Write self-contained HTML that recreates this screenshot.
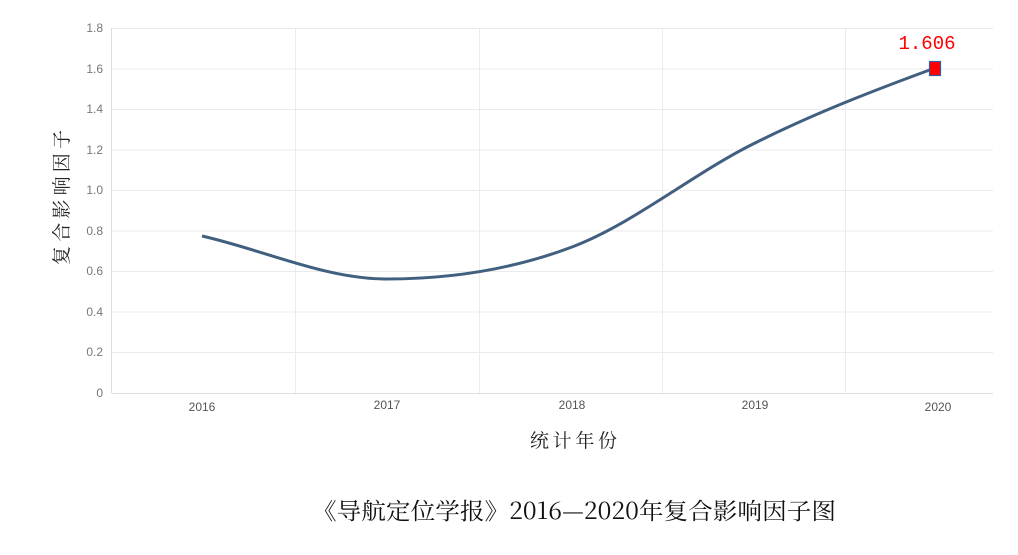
<!DOCTYPE html>
<html><head><meta charset="utf-8"><style>
body{margin:0;background:#fff;width:1018px;height:550px;overflow:hidden}
</style></head><body>
<svg width="1018" height="550" xmlns="http://www.w3.org/2000/svg" style="font-family:'Liberation Sans','Noto Sans CJK SC',sans-serif">
<g stroke="#ebebeb" stroke-width="1">
<line x1="112" y1="28.5" x2="993" y2="28.5"/>
<line x1="112" y1="69" x2="993" y2="69"/>
<line x1="112" y1="109.5" x2="993" y2="109.5"/>
<line x1="112" y1="150" x2="993" y2="150"/>
<line x1="112" y1="190.5" x2="993" y2="190.5"/>
<line x1="112" y1="231" x2="993" y2="231"/>
<line x1="112" y1="271.5" x2="993" y2="271.5"/>
<line x1="112" y1="312" x2="993" y2="312"/>
<line x1="112" y1="352.5" x2="993" y2="352.5"/>
<line x1="295.5" y1="28" x2="295.5" y2="393"/>
<line x1="479.5" y1="28" x2="479.5" y2="393"/>
<line x1="662.5" y1="28" x2="662.5" y2="393"/>
<line x1="845.5" y1="28" x2="845.5" y2="393"/>
</g>
<line x1="112" y1="393.5" x2="993" y2="393.5" stroke="#ddd"/>
<line x1="111.5" y1="28" x2="111.5" y2="393" stroke="#ddd"/>
<g fill="#777" font-size="12" text-anchor="end">
<text x="103" y="32">1.8</text><text x="103" y="73">1.6</text><text x="103" y="113">1.4</text>
<text x="103" y="154">1.2</text><text x="103" y="194">1.0</text><text x="103" y="235">0.8</text>
<text x="103" y="275">0.6</text><text x="103" y="316">0.4</text><text x="103" y="356">0.2</text>
<text x="103" y="397">0</text>
</g>
<g fill="#555" font-size="12" text-anchor="middle">
<text x="202" y="411">2016</text><text x="387" y="409">2017</text><text x="572" y="409">2018</text>
<text x="755" y="409">2019</text><text x="938" y="411">2020</text>
</g>
<text x="0" y="0" font-size="19" fill="#222" transform="translate(68,130) rotate(-90)" text-anchor="end" textLength="135" lengthAdjust="spacing" font-family="'Noto Serif CJK SC',serif">复合影响因子</text>
<text x="530" y="447" font-size="19" fill="#222" textLength="87" lengthAdjust="spacing" font-family="'Noto Serif CJK SC',serif">统计年份</text>
<path d="M202,236 C264,250 325,279 387,279 C449,279 511,270 572,247 C633,224 694,173 755,143 C815,113 875,90 935,68" fill="none" stroke="#41607f" stroke-width="3"/>
<rect x="929.5" y="61.5" width="11" height="14" fill="#f00" stroke="#2f5f9f" stroke-width="1.2"/>
<text x="927" y="49" font-size="19" fill="#f00" text-anchor="middle" font-family="'Liberation Mono',monospace">1.606</text>
<text x="312" y="519" font-size="23" fill="#111" textLength="524" lengthAdjust="spacingAndGlyphs" font-family="'Noto Serif CJK SC','Liberation Serif',serif">《导航定位学报》2016—2020年复合影响因子图</text>
</svg>
</body></html>
